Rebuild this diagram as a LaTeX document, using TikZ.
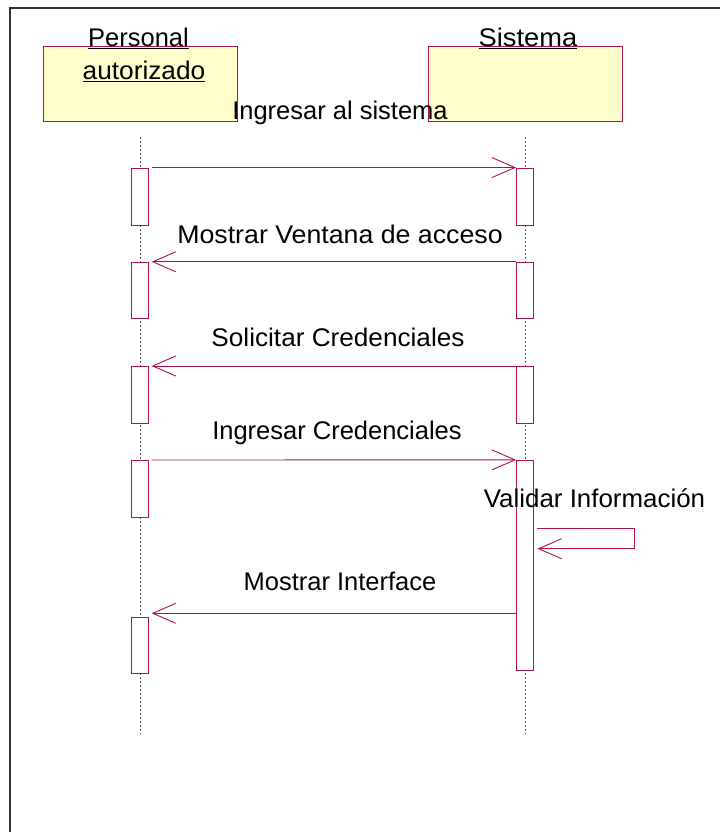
\documentclass[tikz,border=0pt]{standalone}
\usepackage{fontspec}
\setmainfont{Liberation Sans}
\usetikzlibrary{arrows.meta,calc}
\definecolor{umlline}{RGB}{170,20,72}
\definecolor{umlfill}{RGB}{255,253,204}
\definecolor{lifegray}{RGB}{80,80,80}
\begin{document}
\begin{tikzpicture}[x=1pt,y=-1pt,
  lbl/.style={inner sep=0pt,anchor=base,font=\fontsize{25.5}{30}\selectfont},
  objbox/.style={draw=umlline,fill=umlfill,line width=0.9pt,minimum width=194pt,minimum height=75pt,inner sep=0pt},
  actbox/.style={draw=umlline,fill=white,line width=0.9pt,minimum width=17pt,inner sep=0pt},
  lifeline/.style={draw=lifegray,line width=0.7pt,dash pattern=on 2pt off 2pt},
  msg/.style={draw=umlline,line width=0.9pt,-{Straight Barb[length=23pt,width=20pt,line width=0.9pt]}},
  frameline/.style={draw=black!80,line width=1.4pt}]
\useasboundingbox (0,0) rectangle (720,832);
\fill[white] (0,0) rectangle (720,832);

% outer frame (left and top edges)
\coordinate (fbl) at (10,832);
\coordinate (ftl) at (10,8);
\coordinate (ftr) at (720,8);
\draw[frameline] (fbl) -- (ftl) -- (ftr);

% object heads
\node[objbox] (pers) at (140,83.5) {};
\node[objbox] (sist) at (525,83.5) {};
\node[lbl] (persA) at (138.5,47) {\underline{Personal}};
\node[lbl] (persB) at (144,80) {\underline{\scalebox{1.03}[1]{autorizado}}};
\node[lbl] (sistT) at (528,47) {\underline{\scalebox{1.07}[1]{Sistema}}};

% lifelines
\coordinate (pl0) at (140,137);
\coordinate (pl1) at (140,734);
\coordinate (sl0) at (525.5,137);
\coordinate (sl1) at (525.5,734);
\draw[lifeline] (pl0) -- (pl1);
\draw[lifeline] (sl0) -- (sl1);

% activation bars
\node[actbox,minimum height=57pt] (p1) at (139.7,196.5) {};
\node[actbox,minimum height=57pt] (s1) at (525,196.5) {};
\node[actbox,minimum height=56.5pt] (p2) at (139.7,290.5) {};
\node[actbox,minimum height=56.5pt] (s2) at (525,290.5) {};
\node[actbox,minimum height=56.5pt] (p3) at (139.7,394.7) {};
\node[actbox,minimum height=56.5pt] (s3) at (525,394.7) {};
\node[actbox,minimum height=56.5pt] (p4) at (139.7,488.7) {};
\node[actbox,minimum height=210pt] (s4) at (525,565.3) {};
\node[actbox,minimum height=56.5pt] (p5) at (139.7,645.3) {};

% messages
\draw[msg] ($(p1.north east)+(3,0)$) -- (s1.north west);
\node[lbl] (m1) at (340,120) {Ingresar al sistema};

\draw[msg] (s2.north west) -- ($(p2.north east)+(3,0)$);
\node[lbl] (m2) at (340,243) {\scalebox{1.048}[1]{Mostrar Ventana de acceso}};

\draw[msg] (s3.north west) -- ($(p3.north east)+(3,0)$);
\node[lbl] (m3) at (338,346) {\scalebox{1.026}[1]{Solicitar Credenciales}};

\draw[msg] ($(p4.north east)+(3,0)$) -- (s4.north west);
\node[lbl] (m4) at (337,439) {Ingresar Credenciales};

% self call on Sistema
\coordinate (v0) at ($(s4.east |- 0,528.7)+(3,0)$);
\coordinate (v1) at (634,528.7);
\coordinate (v2) at (634,548.7);
\coordinate (v3) at ($(s4.east |- 0,548.7)+(3.5,0)$);
\draw[msg] (v0) -- (v1) -- (v2) -- (v3);
\node[lbl] (m5) at (594.5,507) {\scalebox{1.016}[1]{Validar Información}};

\coordinate (r6) at (s4.west |- 0,613.3);
\coordinate (l6) at ($(p5.east |- 0,613.3)+(3,0)$);
\draw[msg] (r6) -- (l6);
\node[lbl] (m6) at (340,590) {Mostrar Interface};
\end{tikzpicture}
\end{document}
